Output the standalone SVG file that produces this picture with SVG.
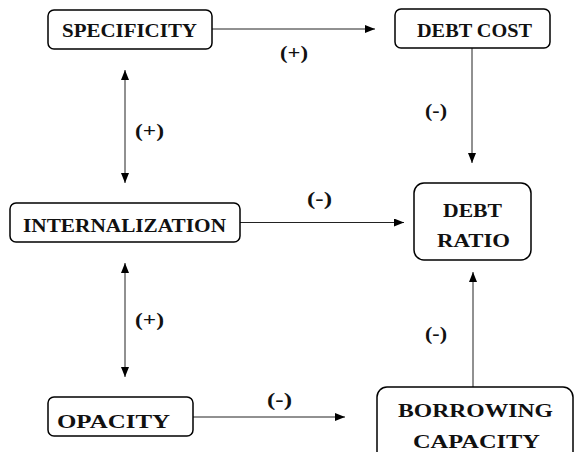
<svg xmlns="http://www.w3.org/2000/svg" width="575" height="452" viewBox="0 0 575 452">
<style>
.box{fill:#fff;stroke:#000;stroke-width:1.5}
.t{font-family:"Liberation Serif","Times New Roman",serif;font-weight:bold;font-size:19.5px;fill:#111}
.l{font-family:"Liberation Serif","Times New Roman",serif;font-weight:bold;font-size:19px;fill:#111}
.c{stroke:#222;stroke-width:1;fill:none}
</style>
<defs>
<marker id="ah" markerUnits="userSpaceOnUse" markerWidth="10" markerHeight="8" refX="10" refY="4" orient="auto-start-reverse">
<path d="M0,0 L10,4 L0,8 z" fill="#000"/>
</marker>
</defs>
<rect width="575" height="452" fill="#fff"/>
<g id="connectors">
<path class="c" d="M212,29 H375" marker-end="url(#ah)"/>
<path class="c" d="M472,48 V163" marker-end="url(#ah)"/>
<path class="c" d="M240,222.5 H404" marker-end="url(#ah)"/>
<path class="c" d="M193,417 H345" marker-end="url(#ah)"/>
<path class="c" d="M473,387 V272" marker-end="url(#ah)"/>
<path class="c" d="M125,70 V183" marker-start="url(#ah)" marker-end="url(#ah)"/>
<path class="c" d="M125,263 V377" marker-start="url(#ah)" marker-end="url(#ah)"/>
<text class="l" x="280" y="59" textLength="28" lengthAdjust="spacingAndGlyphs">(+)</text>
<text class="l" x="425" y="117" textLength="22" lengthAdjust="spacingAndGlyphs">(-)</text>
<text class="l" x="135" y="137" textLength="29" lengthAdjust="spacingAndGlyphs">(+)</text>
<text class="l" x="135" y="326" textLength="29" lengthAdjust="spacingAndGlyphs">(+)</text>
<text class="l" x="307" y="205" textLength="25" lengthAdjust="spacingAndGlyphs">(-)</text>
<text class="l" x="425" y="340" textLength="22" lengthAdjust="spacingAndGlyphs">(-)</text>
<text class="l" x="267" y="406" textLength="25" lengthAdjust="spacingAndGlyphs">(-)</text>
</g>
<g id="specificity">
<rect class="box" x="48" y="10" width="164" height="39" rx="6"/>
<text class="t" x="62" y="37" textLength="135" lengthAdjust="spacingAndGlyphs">SPECIFICITY</text>
</g>
<g id="debt-cost">
<rect class="box" x="395" y="9" width="155" height="39" rx="6"/>
<text class="t" x="417" y="37" textLength="115" lengthAdjust="spacingAndGlyphs">DEBT COST</text>
</g>
<g id="internalization">
<rect class="box" x="10" y="203" width="230" height="39" rx="6"/>
<text class="t" x="23" y="232" textLength="203" lengthAdjust="spacingAndGlyphs">INTERNALIZATION</text>
</g>
<g id="debt-ratio">
<rect class="box" x="414" y="183" width="117" height="77" rx="10"/>
<text class="t" x="443" y="217" textLength="59" lengthAdjust="spacingAndGlyphs">DEBT</text>
<text class="t" x="437" y="247" textLength="73" lengthAdjust="spacingAndGlyphs">RATIO</text>
</g>
<g id="opacity">
<rect class="box" x="48" y="397" width="145" height="39" rx="6"/>
<text class="t" x="57" y="428" textLength="113" lengthAdjust="spacingAndGlyphs">OPACITY</text>
</g>
<g id="borrowing-capacity">
<rect class="box" x="377" y="387" width="196" height="80" rx="10"/>
<text class="t" x="398" y="417" textLength="155" lengthAdjust="spacingAndGlyphs">BORROWING</text>
<text class="t" x="413" y="448" textLength="127" lengthAdjust="spacingAndGlyphs">CAPACITY</text>
</g>
</svg>
